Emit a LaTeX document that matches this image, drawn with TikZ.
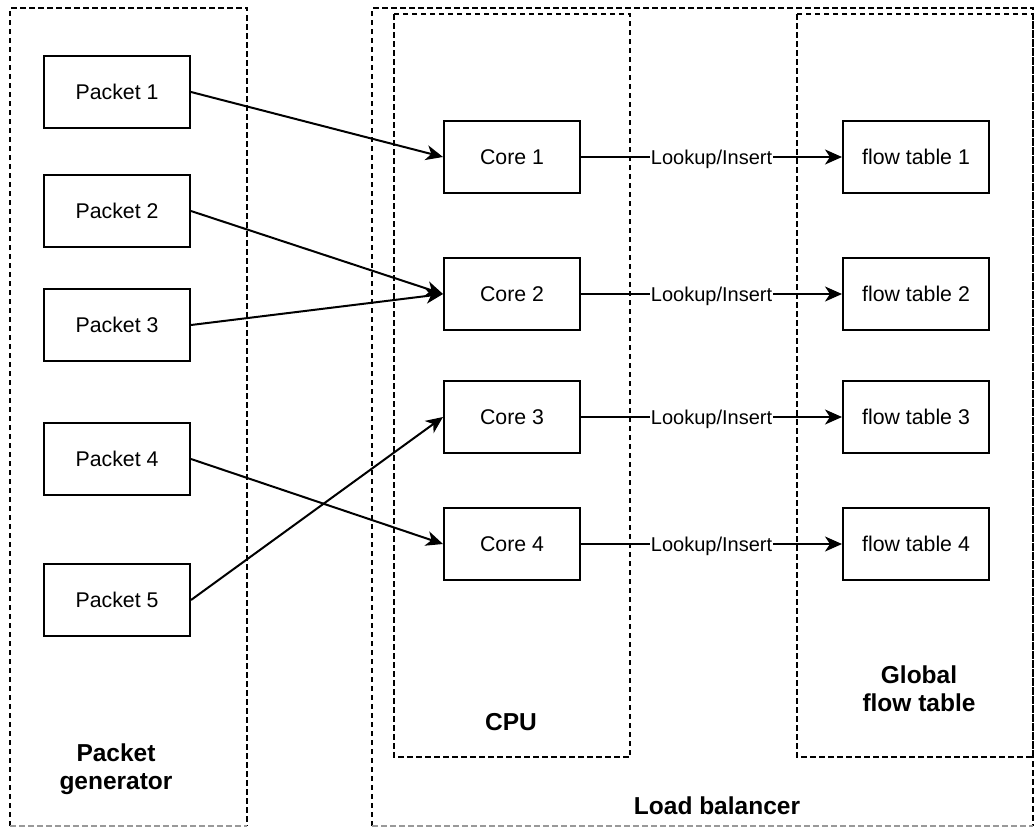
\documentclass[tikz,border=0pt]{standalone}
\usepackage{fontspec}
\setmainfont{Liberation Sans}
\usetikzlibrary{arrows.meta}

\begin{document}
\begin{tikzpicture}[x=1pt,y=-1pt,
  box/.style={draw=black, line width=2pt, rectangle, inner sep=0pt,
    minimum height=72pt, font=\fontsize{21.3}{25}\selectfont},
  pkt/.style={box, minimum width=146pt},
  core/.style={box, minimum width=136pt},
  ftab/.style={box, minimum width=146pt},
  group/.style={draw=black, line width=1.4pt, dash pattern=on 5.5pt off 3.5pt},
  groupedge/.style={draw=black!40, line width=1.2pt, dash pattern=on 5.5pt off 3.5pt},
  title/.style={font=\fontsize{24.5}{28}\selectfont\bfseries, align=center, inner sep=0pt, anchor=base},
  flow/.style={line width=2pt, -{Stealth[length=17pt,width=15pt,inset=5pt]}},
  lbl/.style={fill=white, inner sep=1pt, text height=14.3pt, text depth=0pt,
    font=\fontsize{20}{24}\selectfont}
]
\useasboundingbox (0,0) rectangle (1035,827);

% outer groups (bottom edge is faint)
\draw[group] (10,826) -- (10,8) -- (247,8) -- (247,826);
\draw[groupedge] (10,826) -- (247,826);
\draw[group] (372,826) -- (372,8) -- (1033,8) -- (1033,826);
\draw[groupedge] (372,826) -- (1033,826);

% inner groups
\draw[group] (394,14) rectangle (630,757);
\draw[group] (797,14) rectangle (1033,757);

% group titles
\node[title] (tgen) at (116,789) {Packet\\generator};
\node[title] (tlb) at (717,814) {Load balancer};
\node[title] (tcpu) at (511,730) {CPU};
\node[title] (tgft) at (919,711.7) {Global\\flow table};

% packets
\node[pkt] (p1) at (117,92) {Packet 1};
\node[pkt] (p2) at (117,211) {Packet 2};
\node[pkt] (p3) at (117,325) {Packet 3};
\node[pkt] (p4) at (117,459) {Packet 4};
\node[pkt] (p5) at (117,600) {Packet 5};

% cores
\node[core] (c1) at (512,157) {Core 1};
\node[core] (c2) at (512,294) {Core 2};
\node[core] (c3) at (512,417) {Core 3};
\node[core] (c4) at (512,544) {Core 4};

% flow tables
\node[ftab] (f1) at (916,157) {flow table 1};
\node[ftab] (f2) at (916,294) {flow table 2};
\node[ftab] (f3) at (916,417) {flow table 3};
\node[ftab] (f4) at (916,544) {flow table 4};

% packet dispatch
\draw[flow] (p1.east) -- (c1.west);
\draw[flow] (p2.east) -- (c2.west);
\draw[flow] (p3.east) -- (c2.west);
\draw[flow] (p4.east) -- (c4.west);
\draw[flow] (p5.east) -- (c3.west);

% table accesses
\foreach \i in {1,2,3,4}{
  \draw[flow] (c\i.east) -- node[lbl] (l\i) {Lookup/Insert} (f\i.west);
}
\end{tikzpicture}
\end{document}
